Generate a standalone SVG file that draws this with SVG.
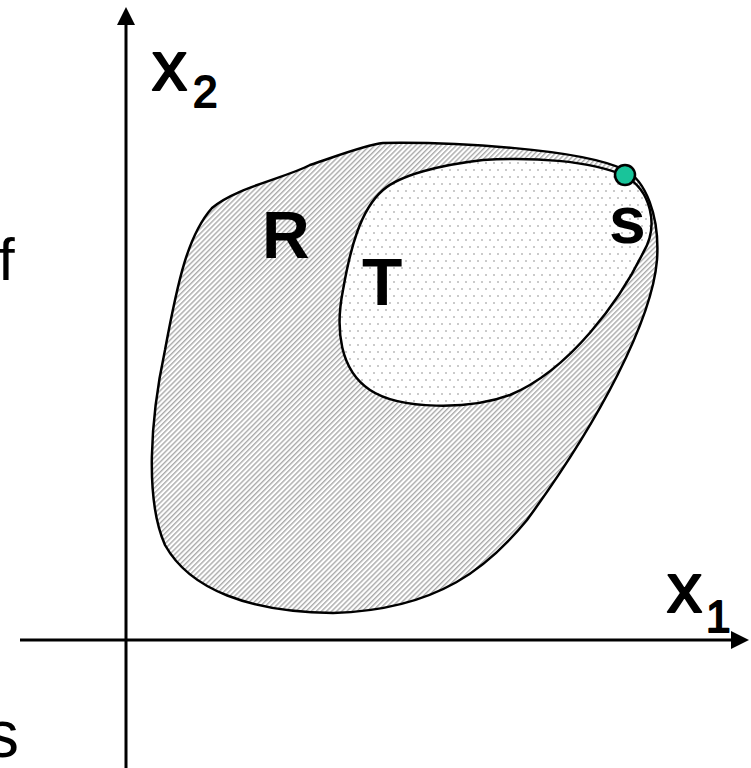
<svg xmlns="http://www.w3.org/2000/svg" width="751" height="768" viewBox="0 0 751 768">
<style>
.axis{stroke:#000;stroke-width:3;fill:none}
.region{stroke:#000;stroke-width:2.5}
.lbl{font-family:"Liberation Sans",Arial,sans-serif;fill:#000}
.big{font-weight:bold;font-size:66px}
.ax{stroke:#000;stroke-width:2;stroke-linejoin:round}
</style>
<defs>
<pattern id="hatch" patternUnits="userSpaceOnUse" width="3.6" height="3.6" patternTransform="rotate(45)">
<rect x="0" y="0" width="3.6" height="3.6" fill="#fff"/>
<rect x="0" y="0" width="1.4" height="3.6" fill="#aaaaaa"/>
</pattern>
<pattern id="dots" patternUnits="userSpaceOnUse" width="16" height="14">
<rect x="0" y="0" width="16" height="14" fill="#fff"/>
<circle cx="2" cy="2" r="0.8" fill="#888"/>
<circle cx="10" cy="2" r="0.8" fill="#888"/>
<circle cx="6" cy="9" r="0.8" fill="#888"/>
<circle cx="14" cy="9" r="0.8" fill="#888"/>
</pattern>
</defs>
<g id="connectors">
<path class="axis" d="M126,768 L126,22"/>
<path d="M126,7 L117,25 L135,25 Z" fill="#000"/>
<path class="axis" d="M20,640 L733,640"/>
<path d="M749,640 L731,631 L731,649 Z" fill="#000"/>
</g>
<g id="R">
<path class="region" fill="url(#hatch)" d="M383,143 C450,142 580,148 625,170 C645,180 660,215 657,260 C652,320 600,420 527,520 C490,565 440,610 333,613 C250,612 190,590 165,545 C145,500 150,420 165,350 C178,280 188,235 212,208 C235,188 285,178 310,165 C340,155 365,145 383,143 Z"/>
<text class="lbl big" x="262" y="258">R</text>
</g>
<g id="T">
<path class="region" fill="url(#dots)" d="M483,160 C530,157 590,160 625,176 C650,190 660,225 643,253 C620,300 570,370 510,395 C470,410 400,410 370,390 C340,370 335,330 343,290 C350,250 360,210 383,190 C400,175 440,165 483,160 Z"/>
<text class="lbl big" x="362" y="305">T</text>
</g>
<g id="s-point">
<circle cx="625" cy="175" r="10" fill="#19c49a" stroke="#000" stroke-width="2.5"/>
<text class="lbl big" x="609" y="243">s</text>
</g>
<g id="x2-label">
<text class="lbl ax" font-size="70" x="152" y="90">x</text>
<text class="lbl ax" font-size="44" stroke-width="1.2" x="193" y="107">2</text>
</g>
<g id="x1-label">
<text class="lbl ax" font-size="70" x="667" y="612">x</text>
<text class="lbl ax" font-size="44" stroke-width="1.2" x="706" y="632">1</text>
</g>
<g id="edge-text">
<text class="lbl" font-size="60" x="-2" y="280">f</text>
<text class="lbl" font-size="66" x="-14" y="757">s</text>
</g>
</svg>
